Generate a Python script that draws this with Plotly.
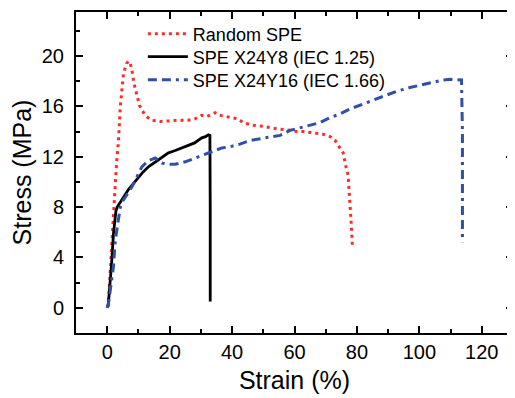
import plotly.graph_objects as go

# Random SPE
red_x = [0, 0.3, 1.0, 1.6, 2.0, 2.6, 3.1, 3.6, 4.2, 5.2, 6.2, 6.8, 7.4, 7.9, 8.6, 9.5, 10.3, 11.1,
         12.5, 14.3, 17, 20, 22.7, 26, 28, 30.3, 32, 34.6, 36, 38, 40.4, 42, 43.6, 46.8, 49, 52,
         55, 58.6, 60.7, 63, 67, 69, 71.4, 73, 74, 75.6, 76.5, 77.2, 77.5, 77.8, 78.1, 78.3, 78.6]
red_y = [0, 0.3, 3.0, 5.8, 7.8, 9.9, 11.8, 13.3, 16.0, 18.6, 19.4, 19.6, 19.4, 18.9, 17.8, 16.8, 16.1, 15.7,
         15.2, 14.9, 14.8, 14.85, 14.9, 14.9, 15.0, 15.3, 15.2, 15.5, 15.3, 15.2, 15.1, 15.0, 14.7, 14.5, 14.45, 14.3,
         14.2, 14.1, 14.0, 14.0, 13.9, 13.8, 13.6, 13.3, 12.9, 12.3, 11.2, 10.5, 9.2, 8.3, 7.0, 6.0, 4.7]

# SPE X24Y8 (IEC 1.25)
blk_x = [0.3, 0.8, 1.4, 2.0, 2.5, 2.8, 3.2, 4.2, 5.5, 6.8, 8.5, 10, 11.5, 13.2, 15.5, 17.5, 19.5,
         21.8, 24, 26, 28, 30.3, 31.5, 32.4, 32.9, 33.0, 33.0]
blk_y = [0.1, 1.5, 3.5, 5.9, 7.0, 7.7, 8.0, 8.4, 8.9, 9.4, 9.9, 10.4, 10.8, 11.2, 11.6, 12.0, 12.3,
         12.5, 12.7, 12.9, 13.1, 13.5, 13.6, 13.75, 13.7, 8.0, 0.5]

# SPE X24Y16 (IEC 1.66)
blu_x = [0, 0.5, 1.2, 2, 2.6, 3.1, 3.6, 4.2, 5.0, 5.8, 6.8, 7.9, 9.5, 11.1, 13.2, 15.4, 16.5, 17.5,
         19.5, 21.8, 25, 28.2, 31, 33, 36.7, 39.4, 42.5, 45.8, 50, 55.4, 58.6, 62, 65, 68, 71.4,
         74.5, 77.8, 81, 84.2, 88, 92.7, 97, 102.3, 105, 107.6, 110, 112.4, 113.5, 113.8, 113.8]
blu_y = [0, 0.5, 1.8, 3.3, 5.4, 6.3, 7.0, 8.0, 8.5, 8.8, 9.2, 9.6, 10.4, 11.2, 11.7, 11.9, 11.7, 11.5,
         11.4, 11.4, 11.6, 11.9, 12.2, 12.4, 12.7, 12.8, 13.0, 13.3, 13.5, 13.7, 14.1, 14.3, 14.5, 14.7, 15.1,
         15.4, 15.8, 16.1, 16.4, 16.8, 17.2, 17.5, 17.8, 18.0, 18.1, 18.15, 18.15, 18.1, 14.0, 5.2]

x_ticks = [0, 20, 40, 60, 80, 100, 120]
y_ticks = [0, 4, 8, 12, 16, 20]

FONT = "Arial, Liberation Sans, sans-serif"

fig = go.Figure()
fig.add_trace(go.Scatter(x=red_x, y=red_y, mode="lines", name="Random SPE", legend="legend",
                         line=dict(color="#ff2a2a", width=3, dash="3px,4px")))
fig.add_trace(go.Scatter(x=blk_x, y=blk_y, mode="lines", name="SPE X24Y8 (IEC 1.25)", legend="legend2",
                         line=dict(color="black", width=2.8)))
fig.add_trace(go.Scatter(x=blu_x, y=blu_y, mode="lines", name="SPE X24Y16 (IEC 1.66)", legend="legend3",
                         line=dict(color="#2f4fa8", width=3, dash="9px,5px,9px,5px,3px,5px")))

axis_common = dict(showline=True, linecolor="black", linewidth=2, mirror="allticks",
                   ticks="inside", ticklen=7, tickwidth=2, tickcolor="black",
                   showgrid=False, zeroline=False, automargin=False,
                   tickfont=dict(family=FONT, size=20, color="black"))

fig.update_xaxes(range=[-10, 130], tickvals=x_ticks, ticktext=[str(v) for v in x_ticks],
                 minor=dict(ticks="inside", ticklen=4, tickwidth=2, tickcolor="black", dtick=10, tick0=0),
                 title=dict(text="Strain (%)", font=dict(family=FONT, size=25, color="black"), standoff=9),
                 **axis_common)
fig.update_yaxes(range=[-2, 23.5], tickvals=y_ticks, ticktext=[str(v) for v in y_ticks],
                 minor=dict(ticks="inside", ticklen=4, tickwidth=2, tickcolor="black", dtick=2, tick0=0),
                 title=dict(text="Stress (MPa)", font=dict(family=FONT, size=25, color="black"), standoff=5),
                 ticklabelstandoff=6,
                 **axis_common)

leg_common = dict(x=0.153, xanchor="left", yanchor="middle",
                  bgcolor="rgba(0,0,0,0)", borderwidth=0,
                  font=dict(family=FONT, size=18, color="black"), itemwidth=40)

fig.update_layout(
    width=515, height=398,
    margin=dict(l=68, r=10, t=4, b=73),
    paper_bgcolor="white", plot_bgcolor="white",
    showlegend=True,
    legend=dict(y=0.931, **leg_common),
    legend2=dict(y=0.860, **leg_common),
    legend3=dict(y=0.788, **leg_common),
)

fig.write_html("out.html")
